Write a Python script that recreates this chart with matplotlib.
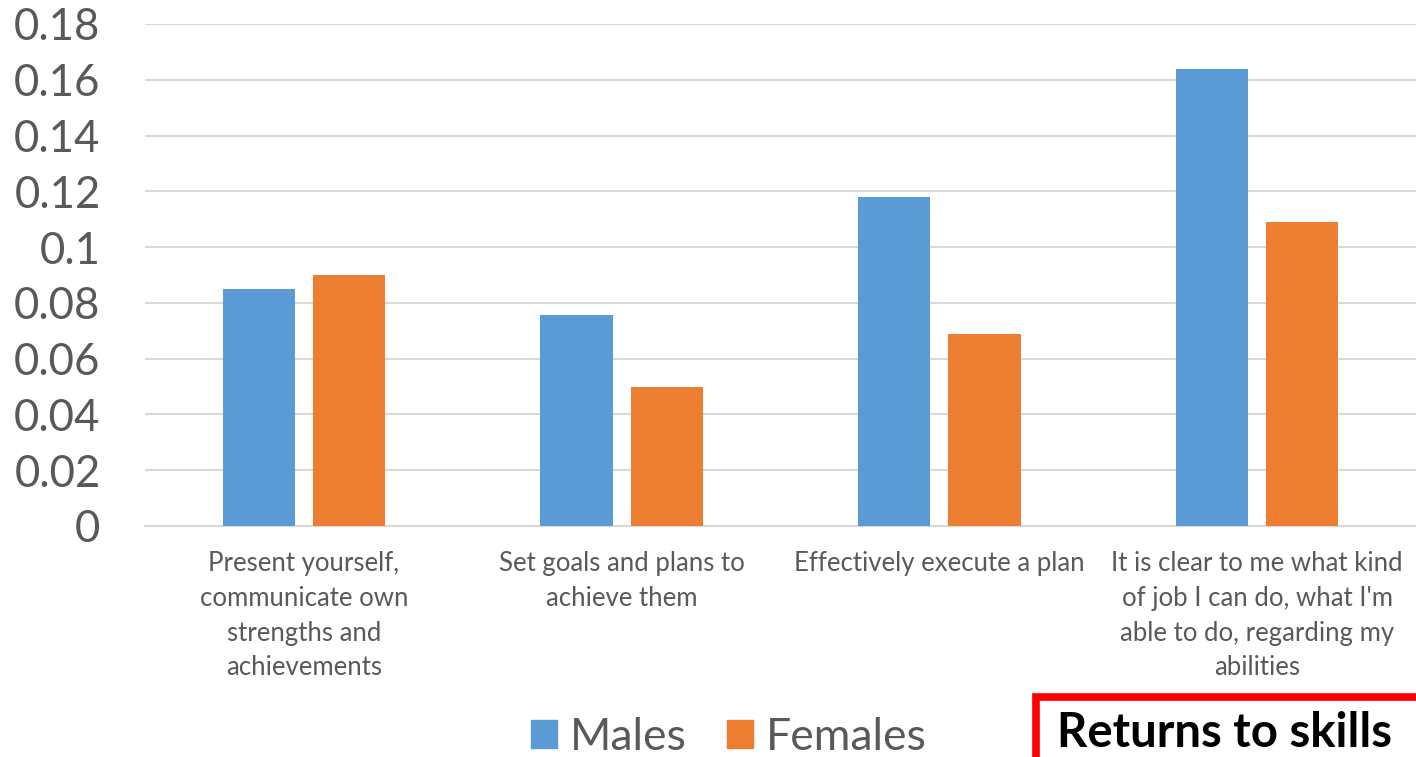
import matplotlib
matplotlib.use("Agg")
import matplotlib.pyplot as plt
import matplotlib.patches as mpatches
import numpy as np

plt.rcParams['font.family'] = ['Lato', 'DejaVu Sans']

categories = [
    "Present yourself,\ncommunicate own\nstrengths and\nachievements",
    "Set goals and plans to\nachieve them",
    "Effectively execute a plan",
    "It is clear to me what kind\nof job I can do, what I'm\nable to do, regarding my\nabilities",
]
males = [0.085, 0.0755, 0.118, 0.164]
females = [0.090, 0.050, 0.0687, 0.109]
yticks = [0, 0.02, 0.04, 0.06, 0.08, 0.1, 0.12, 0.14, 0.16, 0.18]
ytick_labels = ["0", "0.02", "0.04", "0.06", "0.08", "0.1", "0.12", "0.14", "0.16", "0.18"]

blue = "#5b9bd5"
orange = "#ed7d31"
grey = "#595959"

W, H = 1416, 757
fig = plt.figure(figsize=(W / 100, H / 100), dpi=100)
ax = fig.add_axes([145 / W, (H - 526) / H, (W - 145) / W, (526 - 24) / H])

x = np.arange(len(categories))
bw = 0.227
ax.bar(x - 0.142, males, bw, color=blue, label="Males", zorder=3)
ax.bar(x + 0.142, females, bw, color=orange, label="Females", zorder=3)

ax.set_xlim(-0.5, len(categories) - 0.5)
ax.set_ylim(0, 0.18)
ax.set_yticks(yticks)
ax.set_yticklabels(ytick_labels, fontsize=31.5, color=grey)
ax.set_xticks(x)
ax.set_xticklabels(categories, fontsize=18.5, color=grey, linespacing=1.49, va="top")
ax.tick_params(axis="y", length=0, pad=32)
ax.tick_params(axis="x", length=0, pad=18)
ax.grid(axis="y", color="#d9d9d9", linewidth=1.5, zorder=0)
for s in ["top", "right", "left"]:
    ax.spines[s].set_visible(False)
ax.spines["bottom"].set_color("#d9d9d9")
ax.spines["bottom"].set_linewidth(1.5)

handles = [mpatches.Patch(color=blue), mpatches.Patch(color=orange)]
fig.legend(handles, ["Males", "Females"], loc="center", bbox_to_anchor=(729 / W, (H - 737) / H),
           ncol=2, frameon=False, fontsize=32, labelcolor=grey, handlelength=0.58, handleheight=0.58,
           handletextpad=0.3, columnspacing=0.9)

box = mpatches.Rectangle((1036 / W, (H - 697) / H - 0.3), 0.5, 0.3, transform=fig.transFigure,
                         fill=False, edgecolor="red", linewidth=5.5, clip_on=False)
fig.patches.append(box)
fig.text(1057 / W, 2 / H, "Returns to skills", fontsize=34, fontweight="bold",
         color="black", ha="left", va="bottom")

fig.savefig("out.png", dpi=100)
